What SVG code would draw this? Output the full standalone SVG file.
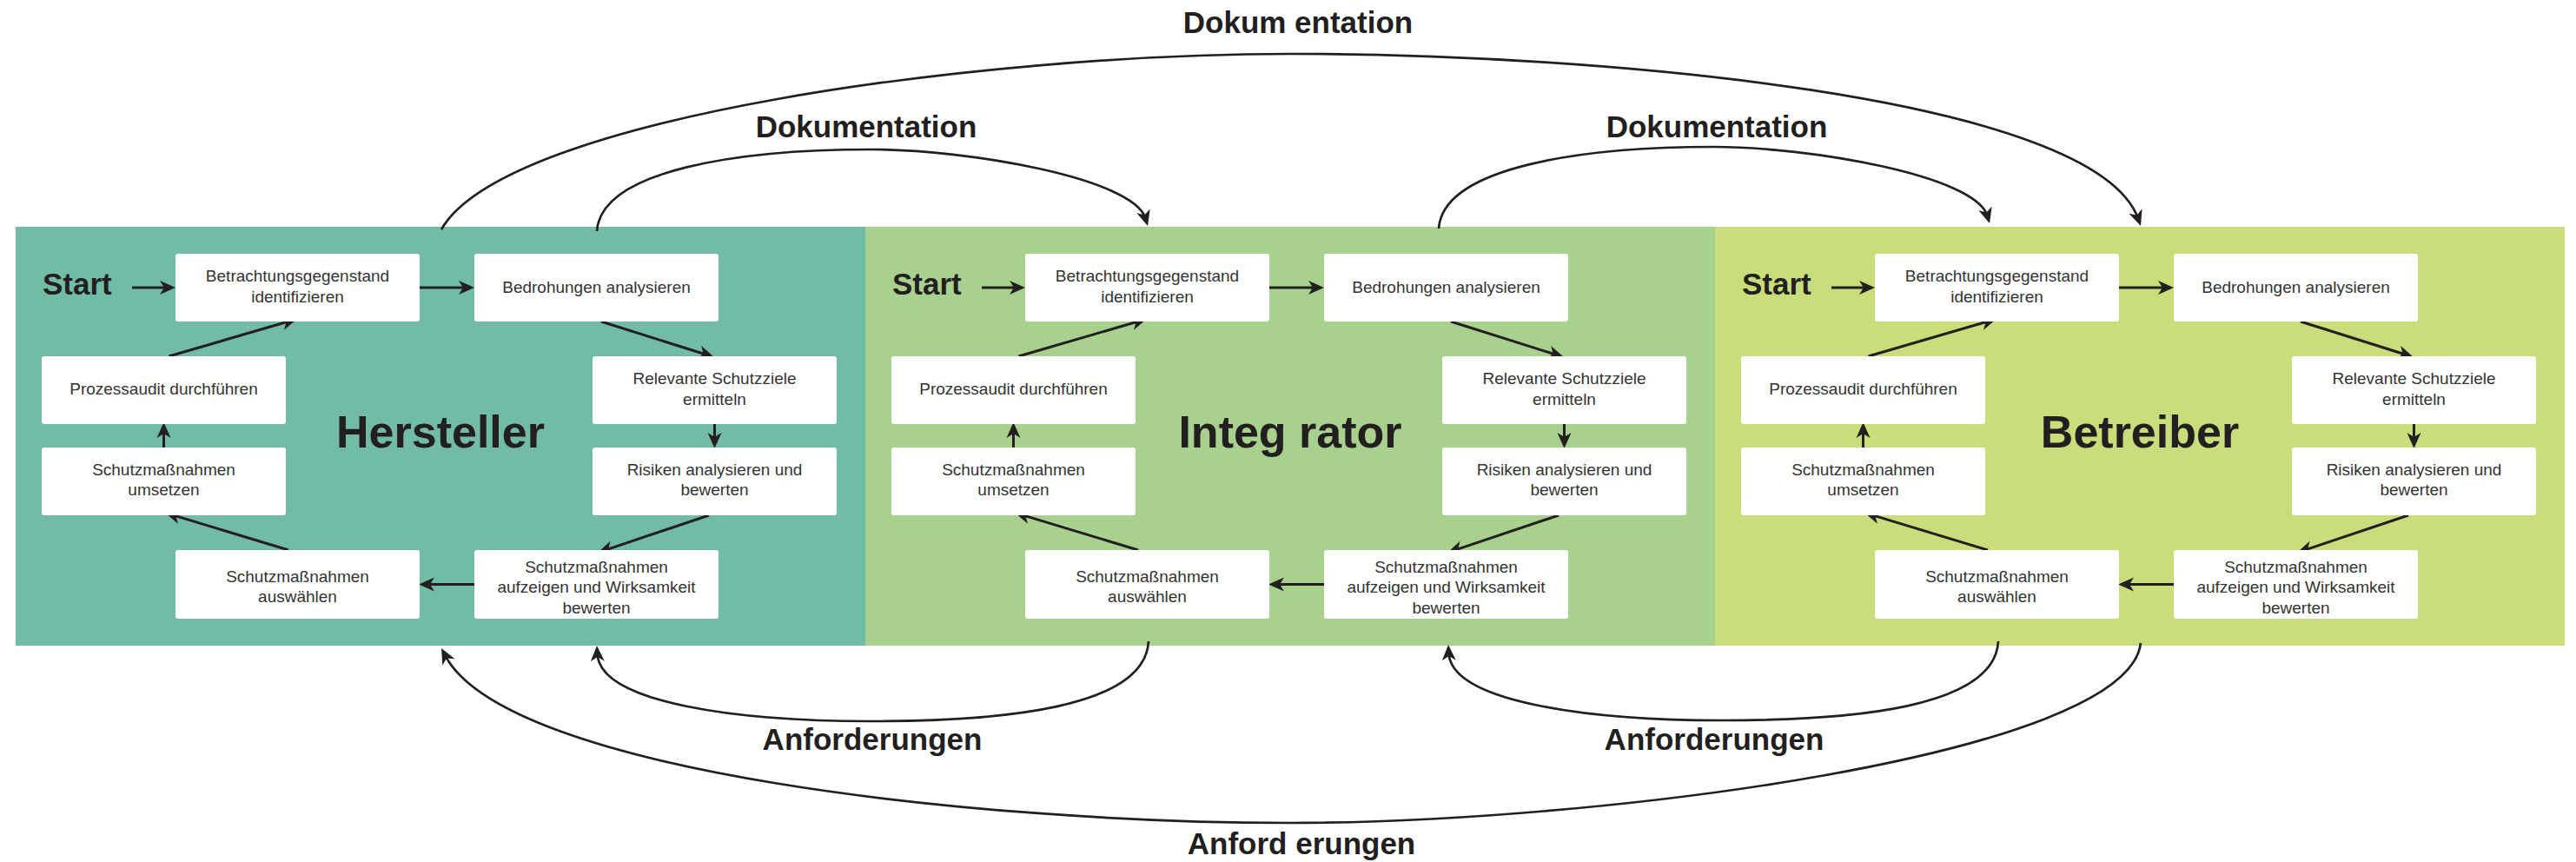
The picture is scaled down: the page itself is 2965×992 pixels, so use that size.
<svg xmlns="http://www.w3.org/2000/svg" width="2965" height="992" viewBox="0 0 2965 992">
  <style>
    .bg { fill: #ffffff; }
    .panel-a { fill: #72bba7; }
    .panel-b { fill: #a8d18e; }
    .panel-c { fill: #c9de7a; }
    .node rect { fill: #ffffff; }
    .node text { font-family: "Liberation Sans", Arial, sans-serif; font-size: 19px; fill: #333333; text-anchor: middle; }
    .heading { font-family: "Liberation Sans", Arial, sans-serif; font-size: 52px; font-weight: bold; fill: #231f20; text-anchor: middle; }
    .start { font-family: "Liberation Sans", Arial, sans-serif; font-size: 35px; font-weight: bold; fill: #231f20; }
    .label { font-family: "Liberation Sans", Arial, sans-serif; font-size: 35px; font-weight: bold; fill: #231f20; text-anchor: middle; }
    .step { fill: none; stroke: #231f20; stroke-width: 3; marker-end: url(#arrow); }
    .flow { fill: none; stroke: #231f20; stroke-width: 2.7; marker-end: url(#arrow); }
  </style>
  <defs>
    <marker id="arrow" markerUnits="userSpaceOnUse" viewBox="-20 -10 22 20" markerWidth="22" markerHeight="20" refX="-9" refY="0" orient="auto" overflow="visible">
      <path d="M0,0 L-18,-8 L-13,0 L-18,8 Z" fill="#231f20"/>
    </marker>
    <!-- one role's process cycle, drawn in panel-local coordinates -->
    <g id="cycle-links">
      <path d="M152,331 L193,331"/>
      <path d="M483,331 L537,331"/>
      <path d="M692,370 L813.4,408.3"/>
      <path d="M822.5,488 L822.5,507"/>
      <path d="M816,593 L696.5,633.1"/>
      <path d="M546,672.5 L491,672.5"/>
      <path d="M332,633 L198.6,592.6"/>
      <path d="M188.5,515 L188.5,495"/>
      <path d="M194.5,410 L333.4,369.5"/>
    </g>
  </defs>

  <rect class="bg" x="0" y="0" width="2965" height="992"/>

  <!-- role panels -->
  <rect class="panel-a" x="18" y="261" width="978" height="482"/>
  <rect class="panel-b" x="996" y="261" width="978" height="482"/>
  <rect class="panel-c" x="1974" y="261" width="978" height="482"/>

  <!-- hand-over connectors between the roles -->
  <g id="connectors">
    <g id="flows">
      <path class="flow" d="M508,264 C583,134 1135,62 1485,62 C1835,62 2410,110 2461,251.5"/>
      <path class="flow" d="M687,266 C692,195 853,172 1003,172 C1113,172 1305,205 1318.5,251.4"/>
      <path class="flow" d="M1656,263 C1661,192 1822,169 1972,169 C2082,169 2274,202 2287.5,248.4"/>
      <path class="flow" d="M1322,738 C1318,815 1153,830 1003,830 C853,830 690,810 687.4,752"/>
      <path class="flow" d="M2300,738 C2296,815 2131,829 1983,829 C1833,829 1670,809 1667.4,751"/>
      <path class="flow" d="M2464,740 C2449,870 1835,947 1485,947 C1135,947 583,890 512.2,754"/>
    </g>
    <g id="steps-hersteller" class="step">
      <use href="#cycle-links"/>
    </g>
    <g id="steps-integrator" class="step" transform="translate(978,0)">
      <use href="#cycle-links"/>
    </g>
    <g id="steps-betreiber" class="step" transform="translate(1956,0)">
      <use href="#cycle-links"/>
    </g>
  </g>

  <!-- flow labels -->
  <g id="flow-labels">
    <text class="label" x="1494" y="38">Dokum entation</text>
    <text class="label" x="997" y="158">Dokumentation</text>
    <text class="label" x="1976" y="158">Dokumentation</text>
    <text class="label" x="1004" y="863">Anforderungen</text>
    <text class="label" x="1973" y="863">Anforderungen</text>
    <text class="label" x="1498" y="983">Anford erungen</text>
  </g>

  <!-- Hersteller -->
  <g id="hersteller">
    <text class="start" x="49" y="339">Start</text>
    <text class="heading" x="507" y="515">Hersteller</text>
    <g id="h-betrachtung" class="node"><rect x="202" y="292" width="281" height="78" rx="3"/><text x="342.5" y="324.3">Betrachtungsgegenstand</text><text x="342.5" y="347.7">identifizieren</text></g>
    <g id="h-bedrohungen" class="node"><rect x="546" y="292" width="281" height="78" rx="3"/><text x="686.5" y="336.5">Bedrohungen analysieren</text></g>
    <g id="h-schutzziele" class="node"><rect x="682" y="410" width="281" height="78" rx="3"/><text x="822.5" y="442.3">Relevante Schutzziele</text><text x="822.5" y="465.7">ermitteln</text></g>
    <g id="h-risiken" class="node"><rect x="682" y="515" width="281" height="78" rx="3"/><text x="822.5" y="546.7">Risiken analysieren und</text><text x="822.5" y="570.1">bewerten</text></g>
    <g id="h-aufzeigen" class="node"><rect x="546" y="633" width="281" height="79" rx="3"/><text x="686.5" y="659">Schutzmaßnahmen</text><text x="686.5" y="682.4">aufzeigen und Wirksamkeit</text><text x="686.5" y="705.8">bewerten</text></g>
    <g id="h-auswaehlen" class="node"><rect x="202" y="633" width="281" height="79" rx="3"/><text x="342.5" y="670">Schutzmaßnahmen</text><text x="342.5" y="693.4">auswählen</text></g>
    <g id="h-umsetzen" class="node"><rect x="48" y="515" width="281" height="78" rx="3"/><text x="188.5" y="546.7">Schutzmaßnahmen</text><text x="188.5" y="570.1">umsetzen</text></g>
    <g id="h-audit" class="node"><rect x="48" y="410" width="281" height="78" rx="3"/><text x="188.5" y="453.8">Prozessaudit durchführen</text></g>
  </g>

  <!-- Integrator -->
  <g id="integrator" transform="translate(978,0)">
    <text class="start" x="49" y="339">Start</text>
    <text class="heading" x="507" y="515">Integ rator</text>
    <g id="i-betrachtung" class="node"><rect x="202" y="292" width="281" height="78" rx="3"/><text x="342.5" y="324.3">Betrachtungsgegenstand</text><text x="342.5" y="347.7">identifizieren</text></g>
    <g id="i-bedrohungen" class="node"><rect x="546" y="292" width="281" height="78" rx="3"/><text x="686.5" y="336.5">Bedrohungen analysieren</text></g>
    <g id="i-schutzziele" class="node"><rect x="682" y="410" width="281" height="78" rx="3"/><text x="822.5" y="442.3">Relevante Schutzziele</text><text x="822.5" y="465.7">ermitteln</text></g>
    <g id="i-risiken" class="node"><rect x="682" y="515" width="281" height="78" rx="3"/><text x="822.5" y="546.7">Risiken analysieren und</text><text x="822.5" y="570.1">bewerten</text></g>
    <g id="i-aufzeigen" class="node"><rect x="546" y="633" width="281" height="79" rx="3"/><text x="686.5" y="659">Schutzmaßnahmen</text><text x="686.5" y="682.4">aufzeigen und Wirksamkeit</text><text x="686.5" y="705.8">bewerten</text></g>
    <g id="i-auswaehlen" class="node"><rect x="202" y="633" width="281" height="79" rx="3"/><text x="342.5" y="670">Schutzmaßnahmen</text><text x="342.5" y="693.4">auswählen</text></g>
    <g id="i-umsetzen" class="node"><rect x="48" y="515" width="281" height="78" rx="3"/><text x="188.5" y="546.7">Schutzmaßnahmen</text><text x="188.5" y="570.1">umsetzen</text></g>
    <g id="i-audit" class="node"><rect x="48" y="410" width="281" height="78" rx="3"/><text x="188.5" y="453.8">Prozessaudit durchführen</text></g>
  </g>

  <!-- Betreiber -->
  <g id="betreiber" transform="translate(1956,0)">
    <text class="start" x="49" y="339">Start</text>
    <text class="heading" x="507" y="515">Betreiber</text>
    <g id="b-betrachtung" class="node"><rect x="202" y="292" width="281" height="78" rx="3"/><text x="342.5" y="324.3">Betrachtungsgegenstand</text><text x="342.5" y="347.7">identifizieren</text></g>
    <g id="b-bedrohungen" class="node"><rect x="546" y="292" width="281" height="78" rx="3"/><text x="686.5" y="336.5">Bedrohungen analysieren</text></g>
    <g id="b-schutzziele" class="node"><rect x="682" y="410" width="281" height="78" rx="3"/><text x="822.5" y="442.3">Relevante Schutzziele</text><text x="822.5" y="465.7">ermitteln</text></g>
    <g id="b-risiken" class="node"><rect x="682" y="515" width="281" height="78" rx="3"/><text x="822.5" y="546.7">Risiken analysieren und</text><text x="822.5" y="570.1">bewerten</text></g>
    <g id="b-aufzeigen" class="node"><rect x="546" y="633" width="281" height="79" rx="3"/><text x="686.5" y="659">Schutzmaßnahmen</text><text x="686.5" y="682.4">aufzeigen und Wirksamkeit</text><text x="686.5" y="705.8">bewerten</text></g>
    <g id="b-auswaehlen" class="node"><rect x="202" y="633" width="281" height="79" rx="3"/><text x="342.5" y="670">Schutzmaßnahmen</text><text x="342.5" y="693.4">auswählen</text></g>
    <g id="b-umsetzen" class="node"><rect x="48" y="515" width="281" height="78" rx="3"/><text x="188.5" y="546.7">Schutzmaßnahmen</text><text x="188.5" y="570.1">umsetzen</text></g>
    <g id="b-audit" class="node"><rect x="48" y="410" width="281" height="78" rx="3"/><text x="188.5" y="453.8">Prozessaudit durchführen</text></g>
  </g>
</svg>
